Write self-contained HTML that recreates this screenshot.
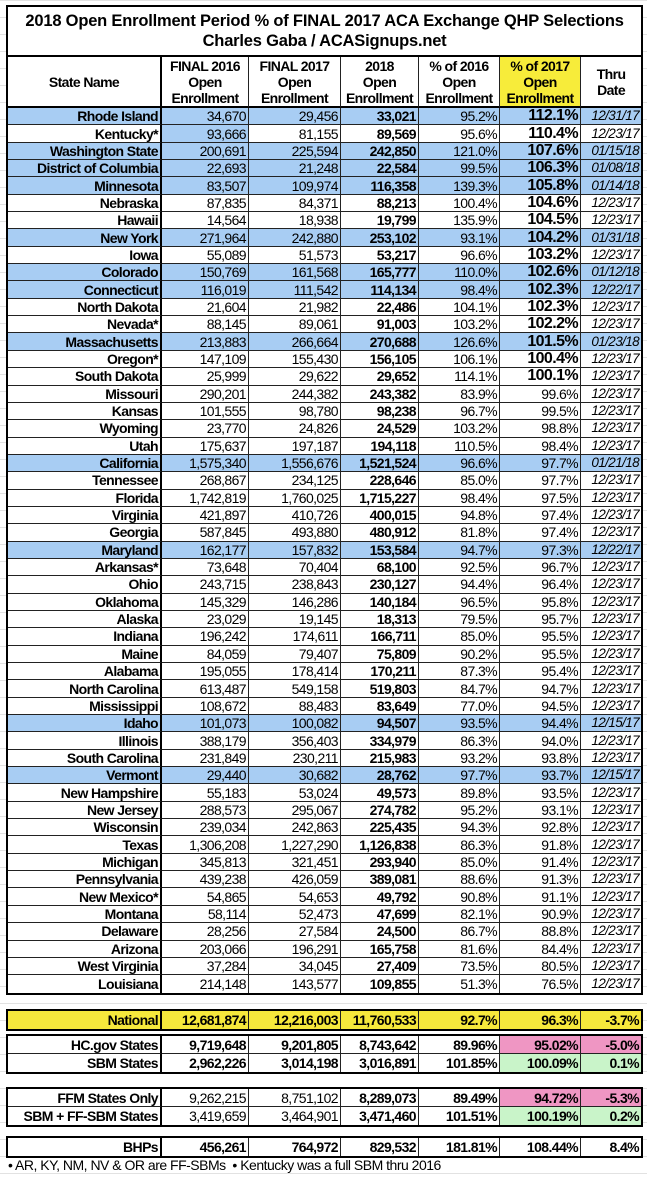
<!DOCTYPE html>
<html><head><meta charset="utf-8"><style>
body{margin:0;width:647px;height:1179px;background:#fff;position:relative;overflow:hidden;font-family:"Liberation Sans",Arial,sans-serif;color:#000}
.grid{position:absolute;left:0;top:0;width:647px;height:1179px;background-image:linear-gradient(#e2e2e2 1px,transparent 1px);background-size:100% 17px;}
table{position:absolute;left:6px;border-collapse:separate;border-spacing:0;table-layout:fixed;width:633px;background:#fff}
td{border:0;border-right:1px solid #222;border-bottom:1px solid #222;padding:0 2px;font-size:14px;letter-spacing:-0.6px;line-height:16px;height:17.35px;box-sizing:border-box;text-align:right;white-space:nowrap;overflow:hidden}
tr td:last-child{border-right:0}
tr:last-child td{border-bottom:0}
td.n{font-weight:bold;border-right:2px solid #000}
td.b{font-weight:bold}
td.p{font-size:16px;font-weight:bold}
td.d{font-style:italic;font-size:13.5px}
tr.bl td{background:#a8cdf3}
.bk{background:#a8cdf3}
col.c0{width:154px}col.c1{width:87px}col.c2{width:92px}col.c3{width:78px}col.c4{width:81px}col.c5{width:81px}col.c6{width:60px}
#main{top:5px;border:2px solid #000}
.title td{text-align:center;font-weight:bold;font-size:16.5px;letter-spacing:-0.2px;line-height:20px;height:50px;border-bottom:2px solid #000}
.hdr td{text-align:center;font-weight:bold;font-size:14px;letter-spacing:-0.6px;line-height:16px;height:51px;border-bottom:2px solid #000;white-space:nowrap}
.hdr td.y{background:#f7ec3a}
.box{border:2px solid #000}
.box td{height:18px;font-weight:bold}
.box td.r{font-weight:normal}
.yl td{background:#f6e83c}
.pk{background:#ef96c3 !important}
.gr{background:#c9f4c9 !important}
.foot{position:absolute;left:8px;top:1157px;font-size:14px;letter-spacing:-0.5px}
</style></head><body>
<div class="grid"></div>
<table id="main">
<colgroup><col class="c0"><col class="c1"><col class="c2"><col class="c3"><col class="c4"><col class="c5"><col class="c6"></colgroup>
<tr class="title"><td colspan="7">2018 Open Enrollment Period % of FINAL 2017 ACA Exchange QHP Selections<br>Charles Gaba / ACASignups.net</td></tr>
<tr class="hdr"><td style="border-right:2px solid #000">State Name</td><td>FINAL 2016<br>Open<br>Enrollment</td><td>FINAL 2017<br>Open<br>Enrollment</td><td>2018<br>Open<br>Enrollment</td><td>% of 2016<br>Open<br>Enrollment</td><td class="y">% of 2017<br>Open<br>Enrollment</td><td>Thru<br>Date</td></tr>
<tr class="bl"><td class="n">Rhode Island</td><td>34,670</td><td>29,456</td><td class="b">33,021</td><td>95.2%</td><td class="p">112.1%</td><td class="d">12/31/17</td></tr>
<tr><td class="n">Kentucky*</td><td class="bk">93,666</td><td>81,155</td><td class="b">89,569</td><td>95.6%</td><td class="p">110.4%</td><td class="d">12/23/17</td></tr>
<tr class="bl"><td class="n">Washington State</td><td>200,691</td><td>225,594</td><td class="b">242,850</td><td>121.0%</td><td class="p">107.6%</td><td class="d">01/15/18</td></tr>
<tr class="bl"><td class="n">District of Columbia</td><td>22,693</td><td>21,248</td><td class="b">22,584</td><td>99.5%</td><td class="p">106.3%</td><td class="d">01/08/18</td></tr>
<tr class="bl"><td class="n">Minnesota</td><td>83,507</td><td>109,974</td><td class="b">116,358</td><td>139.3%</td><td class="p">105.8%</td><td class="d">01/14/18</td></tr>
<tr><td class="n">Nebraska</td><td>87,835</td><td>84,371</td><td class="b">88,213</td><td>100.4%</td><td class="p">104.6%</td><td class="d">12/23/17</td></tr>
<tr><td class="n">Hawaii</td><td>14,564</td><td>18,938</td><td class="b">19,799</td><td>135.9%</td><td class="p">104.5%</td><td class="d">12/23/17</td></tr>
<tr class="bl"><td class="n">New York</td><td>271,964</td><td>242,880</td><td class="b">253,102</td><td>93.1%</td><td class="p">104.2%</td><td class="d">01/31/18</td></tr>
<tr><td class="n">Iowa</td><td>55,089</td><td>51,573</td><td class="b">53,217</td><td>96.6%</td><td class="p">103.2%</td><td class="d">12/23/17</td></tr>
<tr class="bl"><td class="n">Colorado</td><td>150,769</td><td>161,568</td><td class="b">165,777</td><td>110.0%</td><td class="p">102.6%</td><td class="d">01/12/18</td></tr>
<tr class="bl"><td class="n">Connecticut</td><td>116,019</td><td>111,542</td><td class="b">114,134</td><td>98.4%</td><td class="p">102.3%</td><td class="d">12/22/17</td></tr>
<tr><td class="n">North Dakota</td><td>21,604</td><td>21,982</td><td class="b">22,486</td><td>104.1%</td><td class="p">102.3%</td><td class="d">12/23/17</td></tr>
<tr><td class="n">Nevada*</td><td>88,145</td><td>89,061</td><td class="b">91,003</td><td>103.2%</td><td class="p">102.2%</td><td class="d">12/23/17</td></tr>
<tr class="bl"><td class="n">Massachusetts</td><td>213,883</td><td>266,664</td><td class="b">270,688</td><td>126.6%</td><td class="p">101.5%</td><td class="d">01/23/18</td></tr>
<tr><td class="n">Oregon*</td><td>147,109</td><td>155,430</td><td class="b">156,105</td><td>106.1%</td><td class="p">100.4%</td><td class="d">12/23/17</td></tr>
<tr><td class="n">South Dakota</td><td>25,999</td><td>29,622</td><td class="b">29,652</td><td>114.1%</td><td class="p">100.1%</td><td class="d">12/23/17</td></tr>
<tr><td class="n">Missouri</td><td>290,201</td><td>244,382</td><td class="b">243,382</td><td>83.9%</td><td>99.6%</td><td class="d">12/23/17</td></tr>
<tr><td class="n">Kansas</td><td>101,555</td><td>98,780</td><td class="b">98,238</td><td>96.7%</td><td>99.5%</td><td class="d">12/23/17</td></tr>
<tr><td class="n">Wyoming</td><td>23,770</td><td>24,826</td><td class="b">24,529</td><td>103.2%</td><td>98.8%</td><td class="d">12/23/17</td></tr>
<tr><td class="n">Utah</td><td>175,637</td><td>197,187</td><td class="b">194,118</td><td>110.5%</td><td>98.4%</td><td class="d">12/23/17</td></tr>
<tr class="bl"><td class="n">California</td><td>1,575,340</td><td>1,556,676</td><td class="b">1,521,524</td><td>96.6%</td><td>97.7%</td><td class="d">01/21/18</td></tr>
<tr><td class="n">Tennessee</td><td>268,867</td><td>234,125</td><td class="b">228,646</td><td>85.0%</td><td>97.7%</td><td class="d">12/23/17</td></tr>
<tr><td class="n">Florida</td><td>1,742,819</td><td>1,760,025</td><td class="b">1,715,227</td><td>98.4%</td><td>97.5%</td><td class="d">12/23/17</td></tr>
<tr><td class="n">Virginia</td><td>421,897</td><td>410,726</td><td class="b">400,015</td><td>94.8%</td><td>97.4%</td><td class="d">12/23/17</td></tr>
<tr><td class="n">Georgia</td><td>587,845</td><td>493,880</td><td class="b">480,912</td><td>81.8%</td><td>97.4%</td><td class="d">12/23/17</td></tr>
<tr class="bl"><td class="n">Maryland</td><td>162,177</td><td>157,832</td><td class="b">153,584</td><td>94.7%</td><td>97.3%</td><td class="d">12/22/17</td></tr>
<tr><td class="n">Arkansas*</td><td>73,648</td><td>70,404</td><td class="b">68,100</td><td>92.5%</td><td>96.7%</td><td class="d">12/23/17</td></tr>
<tr><td class="n">Ohio</td><td>243,715</td><td>238,843</td><td class="b">230,127</td><td>94.4%</td><td>96.4%</td><td class="d">12/23/17</td></tr>
<tr><td class="n">Oklahoma</td><td>145,329</td><td>146,286</td><td class="b">140,184</td><td>96.5%</td><td>95.8%</td><td class="d">12/23/17</td></tr>
<tr><td class="n">Alaska</td><td>23,029</td><td>19,145</td><td class="b">18,313</td><td>79.5%</td><td>95.7%</td><td class="d">12/23/17</td></tr>
<tr><td class="n">Indiana</td><td>196,242</td><td>174,611</td><td class="b">166,711</td><td>85.0%</td><td>95.5%</td><td class="d">12/23/17</td></tr>
<tr><td class="n">Maine</td><td>84,059</td><td>79,407</td><td class="b">75,809</td><td>90.2%</td><td>95.5%</td><td class="d">12/23/17</td></tr>
<tr><td class="n">Alabama</td><td>195,055</td><td>178,414</td><td class="b">170,211</td><td>87.3%</td><td>95.4%</td><td class="d">12/23/17</td></tr>
<tr><td class="n">North Carolina</td><td>613,487</td><td>549,158</td><td class="b">519,803</td><td>84.7%</td><td>94.7%</td><td class="d">12/23/17</td></tr>
<tr><td class="n">Mississippi</td><td>108,672</td><td>88,483</td><td class="b">83,649</td><td>77.0%</td><td>94.5%</td><td class="d">12/23/17</td></tr>
<tr class="bl"><td class="n">Idaho</td><td>101,073</td><td>100,082</td><td class="b">94,507</td><td>93.5%</td><td>94.4%</td><td class="d">12/15/17</td></tr>
<tr><td class="n">Illinois</td><td>388,179</td><td>356,403</td><td class="b">334,979</td><td>86.3%</td><td>94.0%</td><td class="d">12/23/17</td></tr>
<tr><td class="n">South Carolina</td><td>231,849</td><td>230,211</td><td class="b">215,983</td><td>93.2%</td><td>93.8%</td><td class="d">12/23/17</td></tr>
<tr class="bl"><td class="n">Vermont</td><td>29,440</td><td>30,682</td><td class="b">28,762</td><td>97.7%</td><td>93.7%</td><td class="d">12/15/17</td></tr>
<tr><td class="n">New Hampshire</td><td>55,183</td><td>53,024</td><td class="b">49,573</td><td>89.8%</td><td>93.5%</td><td class="d">12/23/17</td></tr>
<tr><td class="n">New Jersey</td><td>288,573</td><td>295,067</td><td class="b">274,782</td><td>95.2%</td><td>93.1%</td><td class="d">12/23/17</td></tr>
<tr><td class="n">Wisconsin</td><td>239,034</td><td>242,863</td><td class="b">225,435</td><td>94.3%</td><td>92.8%</td><td class="d">12/23/17</td></tr>
<tr><td class="n">Texas</td><td>1,306,208</td><td>1,227,290</td><td class="b">1,126,838</td><td>86.3%</td><td>91.8%</td><td class="d">12/23/17</td></tr>
<tr><td class="n">Michigan</td><td>345,813</td><td>321,451</td><td class="b">293,940</td><td>85.0%</td><td>91.4%</td><td class="d">12/23/17</td></tr>
<tr><td class="n">Pennsylvania</td><td>439,238</td><td>426,059</td><td class="b">389,081</td><td>88.6%</td><td>91.3%</td><td class="d">12/23/17</td></tr>
<tr><td class="n">New Mexico*</td><td>54,865</td><td>54,653</td><td class="b">49,792</td><td>90.8%</td><td>91.1%</td><td class="d">12/23/17</td></tr>
<tr><td class="n">Montana</td><td>58,114</td><td>52,473</td><td class="b">47,699</td><td>82.1%</td><td>90.9%</td><td class="d">12/23/17</td></tr>
<tr><td class="n">Delaware</td><td>28,256</td><td>27,584</td><td class="b">24,500</td><td>86.7%</td><td>88.8%</td><td class="d">12/23/17</td></tr>
<tr><td class="n">Arizona</td><td>203,066</td><td>196,291</td><td class="b">165,758</td><td>81.6%</td><td>84.4%</td><td class="d">12/23/17</td></tr>
<tr><td class="n">West Virginia</td><td>37,284</td><td>34,045</td><td class="b">27,409</td><td>73.5%</td><td>80.5%</td><td class="d">12/23/17</td></tr>
<tr><td class="n">Louisiana</td><td>214,148</td><td>143,577</td><td class="b">109,855</td><td>51.3%</td><td>76.5%</td><td class="d">12/23/17</td></tr>
</table>

<table class="box yl" style="top:1009px">
<colgroup><col class="c0"><col class="c1"><col class="c2"><col class="c3"><col class="c4"><col class="c5"><col class="c6"></colgroup>
<tr><td class="n">National</td><td>12,681,874</td><td>12,216,003</td><td>11,760,533</td><td>92.7%</td><td>96.3%</td><td>-3.7%</td></tr>
</table>

<table class="box" style="top:1034px">
<colgroup><col class="c0"><col class="c1"><col class="c2"><col class="c3"><col class="c4"><col class="c5"><col class="c6"></colgroup>
<tr><td class="n">HC.gov States</td><td>9,719,648</td><td>9,201,805</td><td>8,743,642</td><td>89.96%</td><td class="pk">95.02%</td><td class="pk">-5.0%</td></tr>
<tr><td class="n">SBM States</td><td>2,962,226</td><td>3,014,198</td><td>3,016,891</td><td>101.85%</td><td class="gr">100.09%</td><td class="gr">0.1%</td></tr>
</table>

<table class="box" style="top:1087px">
<colgroup><col class="c0"><col class="c1"><col class="c2"><col class="c3"><col class="c4"><col class="c5"><col class="c6"></colgroup>
<tr><td class="n">FFM States Only</td><td class="r">9,262,215</td><td class="r">8,751,102</td><td>8,289,073</td><td>89.49%</td><td class="pk">94.72%</td><td class="pk">-5.3%</td></tr>
<tr><td class="n">SBM + FF-SBM States</td><td class="r">3,419,659</td><td class="r">3,464,901</td><td>3,471,460</td><td>101.51%</td><td class="gr">100.19%</td><td class="gr">0.2%</td></tr>
</table>

<table class="box" style="top:1136px">
<colgroup><col class="c0"><col class="c1"><col class="c2"><col class="c3"><col class="c4"><col class="c5"><col class="c6"></colgroup>
<tr><td class="n">BHPs</td><td>456,261</td><td>764,972</td><td>829,532</td><td>181.81%</td><td>108.44%</td><td>8.4%</td></tr>
</table>
<div class="foot">• AR, KY, NM, NV &amp; OR are FF-SBMs &nbsp;• Kentucky was a full SBM thru 2016</div>
</body></html>
